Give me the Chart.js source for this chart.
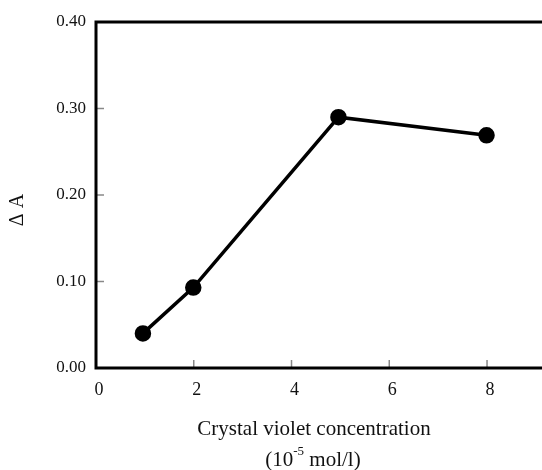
<!DOCTYPE html>
<html>
<head>
<meta charset="utf-8">
<script src="https://cdn.jsdelivr.net/npm/chart.js@4"></script>
<style>
  html, body { margin: 0; padding: 0; background: #fff; }
  #wrap { width: 542px; height: 470px; position: relative; }
</style>
</head>
<body>
<div id="wrap"><canvas id="cvChart"></canvas></div>
<script>
// concentration (10^-5 mol/l) and absorbance change
const concentration = [0.96, 1.99, 4.96, 7.99];
const deltaA = [0.040, 0.093, 0.290, 0.269];

const xTicks = [0, 2, 4, 6, 8];
const yTicks = [0.00, 0.10, 0.20, 0.30, 0.40];

const serif = '"Liberation Serif", "Times New Roman", serif';

// frame (top/left/bottom), inward ticks and axis titles
const framePlugin = {
    id: 'frame',
    beforeDatasetsDraw(chart) {
        const { ctx, chartArea: a, scales } = chart;
        ctx.save();
        // short inward tick marks
        ctx.strokeStyle = '#888';
        ctx.lineWidth = 1.5;
        xTicks.forEach(v => {
            if (v === 0) return;
            const px = scales.x.getPixelForValue(v);
            ctx.beginPath();
            ctx.moveTo(px, a.bottom);
            ctx.lineTo(px, a.bottom - 8);
            ctx.stroke();
        });
        yTicks.forEach(v => {
            if (v === 0 || v === 0.4) return;
            const py = scales.y.getPixelForValue(v);
            ctx.beginPath();
            ctx.moveTo(a.left, py);
            ctx.lineTo(a.left + 8, py);
            ctx.stroke();
        });
        // thick frame lines
        ctx.strokeStyle = '#000';
        ctx.lineWidth = 3;
        ctx.lineCap = 'square';
        ctx.beginPath();
        ctx.moveTo(chart.width, a.top);
        ctx.lineTo(a.left, a.top);
        ctx.lineTo(a.left, a.bottom);
        ctx.lineTo(chart.width, a.bottom);
        ctx.stroke();
        ctx.restore();
    },
    afterDraw(chart) {
        const { ctx } = chart;
        ctx.save();
        ctx.fillStyle = '#111';
        ctx.textBaseline = 'middle';
        ctx.textAlign = 'center';
        // y title
        ctx.save();
        ctx.translate(18, 210);
        ctx.rotate(-Math.PI / 2);
        ctx.font = '20px ' + serif;
        ctx.fillText('\u0394 A', 0, 0);
        ctx.restore();
        // x title, two lines
        ctx.font = '21px ' + serif;
        ctx.fillText('Crystal violet concentration', 314, 429);
        const pre = '(10', sup = '-5', post = ' mol/l)';
        const wPre = ctx.measureText(pre).width;
        const wPost = ctx.measureText(post).width;
        ctx.font = '13px ' + serif;
        const wSup = ctx.measureText(sup).width;
        let x = 313 - (wPre + wSup + wPost) / 2;
        ctx.textAlign = 'left';
        ctx.font = '21px ' + serif;
        ctx.fillText(pre, x, 460);
        x += wPre;
        ctx.font = '13px ' + serif;
        ctx.fillText(sup, x, 452);
        x += wSup;
        ctx.font = '21px ' + serif;
        ctx.fillText(post, x, 460);
        ctx.restore();
    }
};

function initChart() {
    const ctx = document.getElementById('cvChart').getContext('2d');
    new Chart(ctx, {
        type: 'line',
        data: {
            datasets: [{
                data: concentration.map((c, i) => ({ x: c, y: deltaA[i] })),
                borderColor: '#000',
                backgroundColor: '#000',
                borderWidth: 3.5,
                pointRadius: 6.5,
                pointHoverRadius: 6.5,
                tension: 0
            }]
        },
        options: {
            responsive: true,
            maintainAspectRatio: false,
            animation: false,
            layout: { padding: { top: 22, right: 0, bottom: 0, left: 0 } },
            plugins: { legend: { display: false }, tooltip: { enabled: false } },
            scales: {
                x: {
                    type: 'linear',
                    min: 0,
                    max: 8.92,
                    grid: { display: false, drawTicks: false },
                    border: { display: false },
                    afterBuildTicks: s => { s.ticks = xTicks.map(v => ({ value: v })); },
                    afterFit: s => { s.height = 102; },
                    ticks: {
                        color: '#111',
                        padding: 11,
                        labelOffset: 3,
                        maxRotation: 0,
                        font: { family: serif, size: 18 },
                        callback: v => String(v)
                    }
                },
                y: {
                    min: 0,
                    max: 0.4,
                    grid: { display: false, drawTicks: false },
                    border: { display: false },
                    afterBuildTicks: s => { s.ticks = yTicks.map(v => ({ value: v })); },
                    afterFit: s => { s.width = 96; },
                    ticks: {
                        color: '#111',
                        padding: 10,
                        font: { family: serif, size: 17 },
                        callback: v => Number(v).toFixed(2)
                    }
                }
            }
        },
        plugins: [framePlugin]
    });
}

window.addEventListener('load', initChart);
</script>
</body>
</html>
